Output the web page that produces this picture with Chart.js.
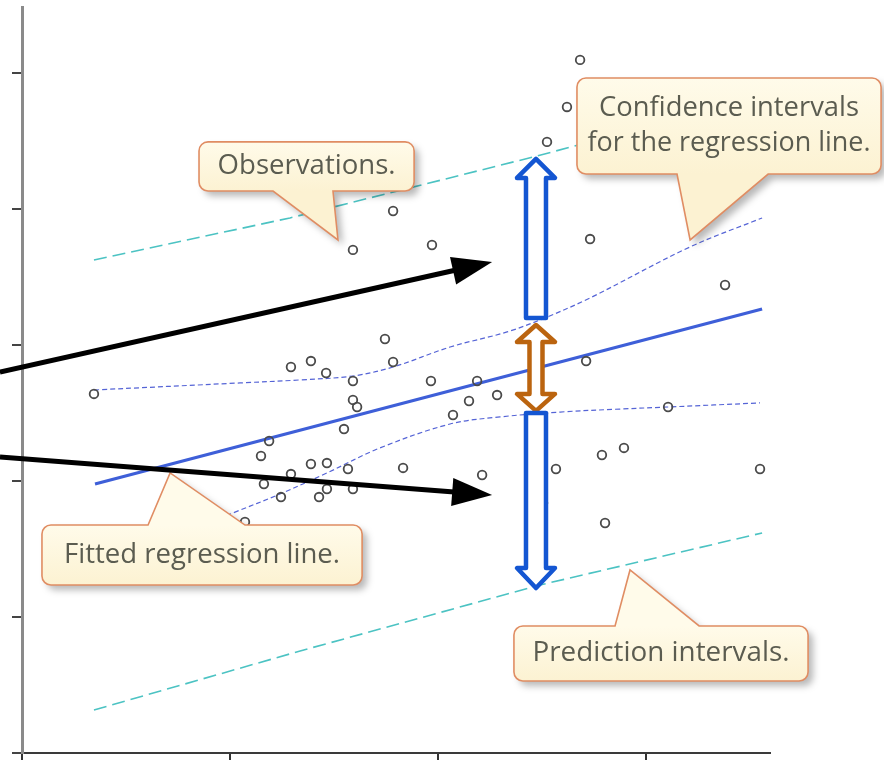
<!DOCTYPE html>
<html>
<head>
<meta charset="utf-8">
<title>Regression intervals</title>
<script src="https://cdn.jsdelivr.net/npm/chart.js@4"></script>
<style>
  html, body { margin: 0; padding: 0; background: #fff; }
  canvas { display: block; }
</style>
</head>
<body>
<canvas id="chart" width="884" height="763"></canvas>
<script>
// Observations
const obsX = [0.346, 2.683, 2.620, 2.524, 1.784, 1.591, 1.971, 2.731, 3.380, 1.745, 1.293, 1.389, 1.462, 1.784, 1.591, 1.966,
  2.188, 2.284, 2.149, 2.072, 1.591, 1.611, 1.548, 2.712, 2.471, 2.457, 3.106, 1.188, 1.149, 1.293, 1.389, 1.466,
  1.567, 1.832, 2.212, 2.567, 2.788, 2.894, 3.548, 1.163, 1.245, 1.428, 1.466, 1.591, 2.505, 2.803, 1.072];
const obsY = [2.640, 5.096, 4.750, 4.493, 3.985, 3.699, 3.735, 3.779, 3.441, 3.044, 2.838, 2.882, 2.794, 2.875, 2.735, 2.735,
  2.735, 2.632, 2.588, 2.485, 2.596, 2.544, 2.382, 2.882, 2.794, 2.691, 2.544, 2.294, 2.184, 2.051, 2.125, 2.132,
  2.088, 2.096, 2.044, 2.088, 2.191, 2.243, 2.088, 1.978, 1.882, 1.882, 1.941, 1.941, 1.838, 1.691, 1.699];

// Fitted regression line
const fitX = [0.351, 3.558];
const fitY = [1.978, 3.265];

// Confidence band for the regression line
const ciUpX = [0.346, 1.048, 1.337, 1.591, 1.784, 2.058, 2.332, 2.514, 2.731, 3.212, 3.558];
const ciUpY = [2.669, 2.721, 2.743, 2.772, 2.838, 2.985, 3.096, 3.199, 3.346, 3.721, 3.934];
const ciLoX = [0.346, 0.700, 1.014, 1.240, 1.466, 1.721, 2.058, 2.298, 2.587, 2.875, 3.106, 3.548];
const ciLoY = [1.330, 1.570, 1.765, 1.904, 2.059, 2.243, 2.419, 2.471, 2.507, 2.529, 2.544, 2.574];

// Prediction band
const piUpX = [0.346, 1.288, 2.457, 3.558];
const piUpY = [3.625, 3.934, 4.382, 4.831];
const piLoX = [0.346, 1.337, 2.490, 3.558];
const piLoY = [0.316, 0.750, 1.235, 1.618];

// Unlabelled tick positions
const xTicks = [0, 1, 2, 3];
const yTicks = [0, 1, 2, 3, 4, 5];

const pts = (xs, ys) => xs.map((x, i) => ({ x, y: ys[i] }));

// Callouts, in data units
const callouts = [
  { lines: ['Observations.'], widths: [178], x0: 0.851, x1: 1.885, top: 4.493, bottom: 4.132,
    side: 'bottom', tailA: 1.207, tailB: 1.495, tipX: 1.519, tipY: 3.772 },
  { lines: ['Confidence intervals', 'for the regression line.'], widths: [260, 283], x0: 2.668, x1: 4.130, top: 4.963, bottom: 4.257,
    side: 'bottom', tailA: 3.149, tailB: 3.587, tipX: 3.212, tipY: 3.772 },
  { lines: ['Fitted regression line.'], widths: [276], x0: 0.096, x1: 1.635, top: 1.676, bottom: 1.235,
    side: 'top', tailA: 0.606, tailB: 1.072, tipX: 0.712, tipY: 2.059 },
  { lines: ['Prediction intervals.'], widths: [257], x0: 2.365, x1: 3.779, top: 0.934, bottom: 0.529,
    side: 'top', tailA: 2.851, tailB: 3.255, tipX: 2.923, tipY: 1.346 }
];

// Black pointer arrows
const pointers = [
  { x0: -0.106, y0: 2.801, x1: 2.260, y1: 3.610 },
  { x0: -0.106, y0: 2.176, x1: 2.260, y1: 1.897 }
];

// Hollow span arrows
const spans = [
  { x: 2.471, top: 4.368, bottom: 3.199, headTop: true, headBottom: false, shaft: 10, headLen: 19, color: '#1456d2' },
  { x: 2.471, top: 3.147, bottom: 2.515, headTop: true, headBottom: true, shaft: 6.5, headLen: 17, color: '#bb640f' },
  { x: 2.471, top: 2.500, bottom: 1.213, headTop: false, headBottom: true, shaft: 10, headLen: 20, color: '#1456d2' }
];

function calloutPath(ctx, L, R, T, B, r, side, a, b, tx, ty) {
  ctx.beginPath();
  ctx.moveTo(L + r, T);
  if (side === 'top') { ctx.lineTo(a, T); ctx.lineTo(tx, ty); ctx.lineTo(b, T); }
  ctx.lineTo(R - r, T);
  ctx.arcTo(R, T, R, T + r, r);
  ctx.lineTo(R, B - r);
  ctx.arcTo(R, B, R - r, B, r);
  if (side === 'bottom') { ctx.lineTo(b, B); ctx.lineTo(tx, ty); ctx.lineTo(a, B); }
  ctx.lineTo(L + r, B);
  ctx.arcTo(L, B, L, B - r, r);
  ctx.lineTo(L, T + r);
  ctx.arcTo(L, T, L + r, T, r);
  ctx.closePath();
}

function drawCallout(ctx, c, px, py) {
  const L = px(c.x0), R = px(c.x1), T = py(c.top), B = py(c.bottom);
  calloutPath(ctx, L, R, T, B, 9, c.side, px(c.tailA), px(c.tailB), px(c.tipX), py(c.tipY));
  const g = ctx.createLinearGradient(0, T, 0, B);
  g.addColorStop(0, '#fffbea');
  g.addColorStop(1, '#fcf2d2');
  ctx.save();
  ctx.shadowColor = 'rgba(0,0,0,0.28)';
  ctx.shadowBlur = 7;
  ctx.shadowOffsetX = 5;
  ctx.shadowOffsetY = 5;
  ctx.fillStyle = g;
  ctx.fill();
  ctx.restore();
  ctx.lineWidth = 1.6;
  ctx.strokeStyle = '#e08d63';
  ctx.stroke();

  // text, squeezed to the width it has in the picture
  ctx.font = '27px "Open Sans"';
  ctx.fillStyle = '#5b5c50';
  ctx.textAlign = 'center';
  ctx.textBaseline = 'middle';
  const cx = (L + R) / 2, cy = (T + B) / 2, lh = 35;
  c.lines.forEach((line, i) => {
    const ly = cy + (i - (c.lines.length - 1) / 2) * lh;
    const sx = c.widths[i] / ctx.measureText(line).width;
    ctx.save();
    ctx.translate(cx, ly);
    ctx.scale(sx, 1);
    ctx.fillText(line, 0, 0);
    ctx.restore();
  });
}

function drawPointer(ctx, x0, y0, x1, y1) {
  const ang = Math.atan2(y1 - y0, x1 - x0);
  const hl = 40, hw = 14;
  const bx = x1 - hl * Math.cos(ang), by = y1 - hl * Math.sin(ang);
  ctx.beginPath();
  ctx.moveTo(x0, y0);
  ctx.lineTo(bx + 2 * Math.cos(ang), by + 2 * Math.sin(ang));
  ctx.lineWidth = 5;
  ctx.strokeStyle = '#000';
  ctx.lineCap = 'butt';
  ctx.stroke();
  ctx.beginPath();
  ctx.moveTo(x1, y1);
  ctx.lineTo(bx + hw * Math.sin(ang), by - hw * Math.cos(ang));
  ctx.lineTo(bx - hw * Math.sin(ang), by + hw * Math.cos(ang));
  ctx.closePath();
  ctx.fillStyle = '#000';
  ctx.fill();
}

function drawSpan(ctx, s, px, py) {
  const cx = px(s.x), top = py(s.top), bot = py(s.bottom);
  const sw = s.shaft, hw = 19, hl = s.headLen;
  const p = [];
  if (s.headTop) p.push([cx - sw, top + hl], [cx - hw, top + hl], [cx, top], [cx + hw, top + hl], [cx + sw, top + hl]);
  else p.push([cx - sw, top], [cx + sw, top]);
  if (s.headBottom) p.push([cx + sw, bot - hl], [cx + hw, bot - hl], [cx, bot], [cx - hw, bot - hl], [cx - sw, bot - hl]);
  else p.push([cx + sw, bot], [cx - sw, bot]);
  ctx.beginPath();
  p.forEach(([a, b], i) => i ? ctx.lineTo(a, b) : ctx.moveTo(a, b));
  ctx.closePath();
  ctx.fillStyle = '#fff';
  ctx.fill();
  ctx.lineWidth = 4.5;
  ctx.lineJoin = 'round';
  ctx.strokeStyle = s.color;
  ctx.stroke();
}

const annotate = {
  id: 'annotate',
  afterDatasetsDraw(chart) {
    const { ctx, scales: { x, y } } = chart;
    const px = v => x.getPixelForValue(v);
    const py = v => y.getPixelForValue(v);
    ctx.save();
    callouts.forEach(c => drawCallout(ctx, c, px, py));
    pointers.forEach(a => drawPointer(ctx, px(a.x0), py(a.y0), px(a.x1), py(a.y1)));
    spans.forEach(s => drawSpan(ctx, s, px, py));
    ctx.restore();
  }
};

const lineSet = (label, xs, ys, extra) => Object.assign({
  label, data: pts(xs, ys), showLine: true, pointRadius: 0, fill: false
}, extra);

new Chart(document.getElementById('chart'), {
  type: 'scatter',
  data: {
    datasets: [
      {
        label: 'Observations',
        data: pts(obsX, obsY),
        pointRadius: 4.3,
        pointBorderWidth: 1.8,
        pointBorderColor: '#4a4a4a',
        pointBackgroundColor: 'rgba(0,0,0,0)'
      },
      lineSet('Fitted', fitX, fitY, { borderColor: '#3e5fd8', borderWidth: 3.2 }),
      lineSet('CI upper', ciUpX, ciUpY, { borderColor: '#5564d6', borderWidth: 1.2, borderDash: [5, 3], tension: 0.35 }),
      lineSet('CI lower', ciLoX, ciLoY, { borderColor: '#5564d6', borderWidth: 1.2, borderDash: [5, 3], tension: 0.35 }),
      lineSet('PI upper', piUpX, piUpY, { borderColor: '#4cc3c3', borderWidth: 1.6, borderDash: [13, 6] }),
      lineSet('PI lower', piLoX, piLoY, { borderColor: '#4cc3c3', borderWidth: 1.6, borderDash: [13, 6] })
    ]
  },
  options: {
    responsive: false,
    animation: false,
    devicePixelRatio: 1,
    layout: { padding: { left: 12, right: 114, top: 7, bottom: 3 } },
    plugins: { legend: { display: false }, tooltip: { enabled: false } },
    scales: {
      x: {
        type: 'linear', min: 0, max: 3.596,
        afterBuildTicks: s => { s.ticks = xTicks.map(v => ({ value: v })); },
        ticks: { display: false },
        grid: { display: true, drawOnChartArea: false, drawTicks: true, tickLength: 7, color: '#333', lineWidth: 2 },
        border: { display: true, color: '#3a3a3a', width: 2 }
      },
      y: {
        type: 'linear', min: 0, max: 5.485,
        afterBuildTicks: s => { s.ticks = yTicks.map(v => ({ value: v })); },
        ticks: { display: false },
        grid: { display: true, drawOnChartArea: false, drawTicks: true, tickLength: 10, color: '#444', lineWidth: 2 },
        border: { display: true, color: '#8a8a8a', width: 3 }
      }
    }
  },
  plugins: [annotate]
});
</script>
</body>
</html>
